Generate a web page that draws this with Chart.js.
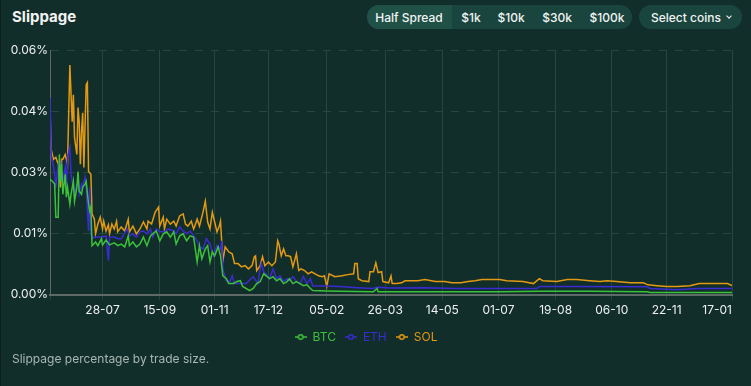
<!DOCTYPE html>
<html>
<head>
<meta charset="utf-8">
<script src="https://cdn.jsdelivr.net/npm/chart.js@4.4.1/dist/chart.umd.min.js"></script>
<style>
  body { margin: 0; width: 751px; height: 386px; overflow: hidden; position: relative;
         background: #112e2a; font-family: Inter, "Noto Sans", sans-serif; color: #f2f4f3; }
  .edge { position: absolute; left: 0; top: 0; bottom: 0; width: 1px; background: #0b201d; }
  .title { position: absolute; left: 12px; top: 7px; font-size: 15px; font-weight: 700; }
  .sizes { position: absolute; left: 367px; top: 5px; width: 265px; height: 24px;
           border-radius: 12px; background: #1a453e; font-size: 12px; font-weight: 500; }
  .sizes .active { position: absolute; left: 0; top: 0; width: 85px; height: 24px;
           border-radius: 12px 0 0 12px; background: #1f5147; }
  .sizes span { position: absolute; top: 5px; transform: translateX(-50%); white-space: nowrap; }
  .coins { position: absolute; left: 639px; top: 5px; width: 103px; height: 24px;
           border-radius: 12px; background: #1a453e; font-size: 12px; font-weight: 500; }
  .coins span { position: absolute; left: 12px; top: 5px; }
  .coins i { position: absolute; left: 88px; top: 9px; width: 3px; height: 3px;
             border-right: 1px solid #f2f4f3; border-bottom: 1px solid #f2f4f3; transform: rotate(45deg); }
  .wrap { position: absolute; left: 0; top: 40px; width: 751px; height: 313px; }
  .note { position: absolute; left: 12px; top: 351px; font-size: 12px; color: #a9b6b3; }
</style>
</head>
<body>
<div class="edge"></div>
<div class="title">Slippage</div>
<div class="sizes">
  <div class="active"></div>
  <span style="left:42px">Half Spread</span>
  <span style="left:104px">$1k</span>
  <span style="left:144px">$10k</span>
  <span style="left:190px">$30k</span>
  <span style="left:240px">$100k</span>
</div>
<div class="coins"><span>Select coins</span><i></i></div>
<div class="wrap"><canvas id="slipChart"></canvas></div>
<div class="note">Slippage percentage by trade size.</div>

<script>
// x values are days since 13-06 (first day of the series)
const xTickDays = [0, 45, 94, 141, 187, 237, 287, 336, 384, 433, 481, 528, 584];
const xTickLabels = ['', '28-07', '15-09', '01-11', '17-12', '05-02', '26-03', '14-05', '01-07', '19-08', '06-10', '22-11', '17-01'];
const yTickVals = [0, 0.015, 0.03, 0.045, 0.06];
const yTickLabels = ['0.00%', '0.01%', '0.03%', '0.04%', '0.06%'];

const btcDays = [0,2,4,5,7,8,9,10,11,13,14,15,17,18,20,21,23,24,25,27,28,30,31,33,34,35,36,39,41,44,45,48,51,55,58,61,64,67,68,71,74,77,80,83,86,88,91,94,97,100,103,106,108,111,114,117,120,123,124,126,128,130,133,135,137,139,141,144,146,148,151,153,157,160,163,165,171,174,177,180,183,186,188,191,194,197,200,203,205,208,211,214,217,220,223,225,237,248,277,280,281,305,385,420,462,511,514,584];
const btcVals = [0.0283,0.0278,0.0271,0.0190,0.0190,0.0344,0.0278,0.0320,0.0246,0.0295,0.0239,0.0263,0.0222,0.0246,0.0278,0.0229,0.0263,0.0302,0.0254,0.0246,0.0263,0.0271,0.0278,0.0222,0.0205,0.0215,0.0120,0.0129,0.0120,0.0137,0.0122,0.0134,0.0122,0.0127,0.0120,0.0124,0.0117,0.0144,0.0120,0.0129,0.0117,0.0124,0.0141,0.0120,0.0144,0.0149,0.0156,0.0132,0.0149,0.0154,0.0141,0.0154,0.0124,0.0144,0.0149,0.0132,0.0144,0.0141,0.0120,0.0080,0.0120,0.0088,0.0112,0.0120,0.0080,0.0105,0.0095,0.0117,0.0095,0.0046,0.0039,0.0027,0.0027,0.0032,0.0034,0.0020,0.0010,0.0015,0.0027,0.0032,0.0051,0.0044,0.0039,0.0044,0.0034,0.0039,0.0027,0.0032,0.0039,0.0027,0.0032,0.0027,0.0022,0.0024,0.0015,0.0010,0.0009,0.0008,0.0007,0.0015,0.0007,0.0007,0.0007,0.0008,0.0008,0.0007,0.0005,0.0005];

const ethDays = [0,1,3,4,5,7,9,11,13,14,15,17,18,19,21,23,24,25,27,28,30,31,33,34,35,36,38,43,48,50,51,55,58,61,66,68,71,74,77,80,83,86,88,91,94,98,101,106,108,111,114,117,120,123,126,128,131,134,137,140,143,146,147,148,151,154,156,158,163,168,174,178,180,181,183,186,188,191,194,197,200,203,205,208,211,214,217,220,223,225,237,248,263,277,280,291,320,348,385,417,419,448,511,514,537,554,584];
const ethVals = [0.0483,0.0344,0.0312,0.0295,0.0263,0.0320,0.0327,0.0278,0.0312,0.0263,0.0337,0.0361,0.0295,0.0278,0.0246,0.0271,0.0278,0.0246,0.0271,0.0263,0.0288,0.0263,0.0156,0.0263,0.0149,0.0137,0.0141,0.0141,0.0144,0.0083,0.0141,0.0141,0.0137,0.0137,0.0161,0.0144,0.0149,0.0141,0.0154,0.0156,0.0149,0.0161,0.0141,0.0161,0.0154,0.0154,0.0161,0.0156,0.0149,0.0166,0.0156,0.0149,0.0156,0.0144,0.0132,0.0117,0.0112,0.0137,0.0124,0.0095,0.0120,0.0112,0.0132,0.0063,0.0034,0.0032,0.0046,0.0027,0.0027,0.0027,0.0044,0.0027,0.0063,0.0076,0.0056,0.0046,0.0039,0.0063,0.0039,0.0046,0.0032,0.0039,0.0034,0.0044,0.0032,0.0027,0.0044,0.0027,0.0039,0.0021,0.0021,0.0020,0.0017,0.0015,0.0018,0.0016,0.0017,0.0015,0.0015,0.0015,0.0020,0.0020,0.0019,0.0015,0.0012,0.0015,0.0015];

const solDays = [0,1,2,3,5,7,9,10,11,13,14,15,17,19,20,21,23,24,25,26,27,28,29,31,32,33,35,36,38,39,41,43,45,46,48,50,51,53,55,57,58,61,64,67,68,71,74,77,80,83,84,87,90,93,94,97,98,100,103,106,108,111,114,116,118,121,123,124,126,128,131,133,135,137,139,141,143,145,146,148,150,153,156,158,161,164,167,170,173,175,176,177,180,182,184,187,190,193,195,196,198,200,202,204,206,208,211,213,215,218,221,224,227,230,233,235,237,239,244,250,255,260,261,263,264,267,273,274,277,279,281,284,285,290,292,293,297,301,304,310,315,321,330,338,344,352,358,364,370,377,385,391,405,414,419,422,434,443,451,462,471,477,485,497,508,512,520,528,537,548,556,571,580,584];
const solVals = [0.0459,0.0356,0.0344,0.0332,0.0337,0.0320,0.0263,0.0332,0.0332,0.0344,0.0332,0.0320,0.0563,0.0424,0.0490,0.0385,0.0344,0.0459,0.0424,0.0320,0.0400,0.0446,0.0312,0.0515,0.0520,0.0302,0.0295,0.0198,0.0185,0.0149,0.0173,0.0190,0.0161,0.0180,0.0156,0.0171,0.0149,0.0173,0.0161,0.0180,0.0154,0.0166,0.0156,0.0185,0.0154,0.0168,0.0149,0.0161,0.0178,0.0161,0.0180,0.0173,0.0202,0.0215,0.0168,0.0190,0.0161,0.0185,0.0173,0.0180,0.0168,0.0193,0.0198,0.0173,0.0168,0.0180,0.0161,0.0168,0.0185,0.0168,0.0202,0.0229,0.0178,0.0161,0.0202,0.0178,0.0154,0.0168,0.0180,0.0083,0.0117,0.0105,0.0100,0.0076,0.0076,0.0068,0.0071,0.0063,0.0071,0.0093,0.0095,0.0059,0.0071,0.0093,0.0071,0.0080,0.0071,0.0080,0.0132,0.0124,0.0095,0.0112,0.0095,0.0095,0.0093,0.0068,0.0100,0.0059,0.0063,0.0059,0.0051,0.0056,0.0051,0.0046,0.0044,0.0046,0.0020,0.0051,0.0044,0.0046,0.0049,0.0051,0.0076,0.0076,0.0039,0.0034,0.0032,0.0056,0.0056,0.0078,0.0054,0.0056,0.0032,0.0029,0.0046,0.0027,0.0027,0.0029,0.0034,0.0034,0.0034,0.0037,0.0032,0.0032,0.0029,0.0029,0.0032,0.0034,0.0037,0.0037,0.0037,0.0034,0.0032,0.0027,0.0039,0.0034,0.0032,0.0037,0.0037,0.0034,0.0032,0.0034,0.0032,0.0029,0.0029,0.0024,0.0022,0.0020,0.0020,0.0022,0.0027,0.0027,0.0027,0.0022];

const BG = '#112e2a';

// little "-o-" marker used by the legend
function legendIcon(color) {
    const c = document.createElement('canvas');
    c.width = 12; c.height = 8;
    const g = c.getContext('2d');
    g.strokeStyle = color;
    g.lineWidth = 1.5;
    g.beginPath(); g.moveTo(0, 4); g.lineTo(12, 4); g.stroke();
    g.fillStyle = BG;
    g.beginPath(); g.arc(6, 4, 2.3, 0, Math.PI * 2); g.fill(); g.stroke();
    return c;
}

function series(label, days, vals, color) {
    return {
        label: label,
        data: days.map((d, i) => ({ x: d, y: vals[i] })),
        borderColor: color,
        backgroundColor: color,
        borderWidth: 1.5,
        pointRadius: 0,
        pointHoverRadius: 0,
        pointStyle: legendIcon(color),
        tension: 0
    };
}

const ctx = document.getElementById('slipChart').getContext('2d');
new Chart(ctx, {
    type: 'line',
    data: {
        datasets: [
            series('BTC', btcDays, btcVals, '#3cc23a'),
            series('ETH', ethDays, ethVals, '#3a2bd2'),
            series('SOL', solDays, solVals, '#e39a12')
        ]
    },
    options: {
        responsive: true,
        maintainAspectRatio: false,
        animation: false,
        layout: { padding: { top: 10, right: 19, left: 0, bottom: 0 } },
        scales: {
            x: {
                type: 'linear',
                min: 0,
                max: 584,
                afterBuildTicks: axis => { axis.ticks = xTickDays.map(v => ({ value: v })); },
                ticks: {
                    autoSkip: false,
                    maxRotation: 0,
                    align: 'inner',
                    padding: 4,
                    color: '#eef1f0',
                    font: { family: 'Inter', size: 12 },
                    callback: v => xTickLabels[xTickDays.indexOf(v)]
                },
                grid: { color: '#264640', tickLength: 5, tickBorderDash: [], borderDash: [8, 8] },
                border: { display: true, color: '#5f6a68', width: 2, dash: [] }
            },
            y: {
                min: 0,
                max: 0.06,
                afterBuildTicks: axis => { axis.ticks = yTickVals.map(v => ({ value: v })); },
                afterFit: axis => { axis.width = 50; },
                ticks: {
                    padding: 2,
                    color: '#eef1f0',
                    font: { family: 'Inter', size: 12 },
                    callback: v => yTickLabels[yTickVals.indexOf(v)]
                },
                grid: { color: '#264640', drawTicks: false },
                border: { display: true, color: '#5f6a68', width: 1, dash: [8, 8] }
            }
        },
        plugins: {
            legend: {
                position: 'bottom',
                labels: {
                    usePointStyle: true,
                    padding: 9,
                    font: { family: 'Inter', size: 12 },
                    generateLabels: chart => {
                        const items = Chart.defaults.plugins.legend.labels.generateLabels(chart);
                        items.forEach(it => { it.fontColor = chart.data.datasets[it.datasetIndex].borderColor; });
                        return items;
                    }
                }
            },
            tooltip: { enabled: false }
        }
    }
});
</script>
</body>
</html>
